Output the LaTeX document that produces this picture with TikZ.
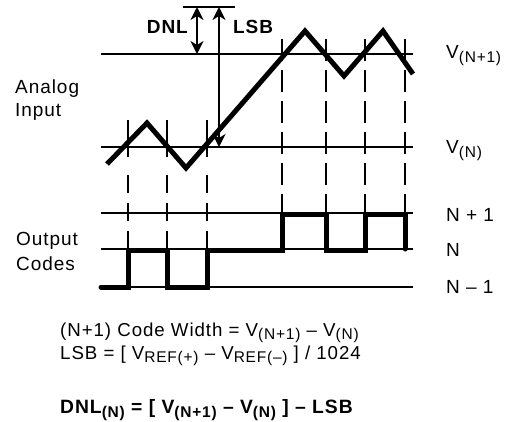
\documentclass[tikz,border=0pt]{standalone}
\usepackage{fontspec}
\setmainfont{Liberation Sans}[LetterSpace=5]
\usetikzlibrary{arrows.meta}
\newcommand\lowsub[1]{\raisebox{-4.5pt}{\fontsize{15.5}{15.5}\selectfont #1}}
\newcommand\flowsub[1]{\raisebox{-3.5pt}{\fontsize{15.5}{15.5}\selectfont #1}}
\begin{document}
\begin{tikzpicture}[x=1pt,y=-1pt,
  hline/.style={line width=1.6pt},
  wave/.style={line width=5pt, line join=miter},
  codeline/.style={line width=5pt, line cap=round, line join=miter},
  dashR/.style={line width=2pt, dash pattern=on 22pt off 9pt},
  dashL/.style={line width=2pt, dash pattern=on 37pt off 18pt on 18pt off 10pt on 18pt off 10pt on 18pt off 10pt},
  dimarrow/.style={line width=1.8pt, {Stealth[length=13pt,width=13pt,inset=4pt]}-{Stealth[length=13pt,width=13pt,inset=4pt]}},
  txt/.style={inner sep=0pt, font=\fontsize{19}{22}\selectfont},
  ftxt/.style={inner sep=0pt, font=\fontsize{18.7}{22}\selectfont}
]
\useasboundingbox (0,0) rectangle (509,421);

% horizontal reference lines
\foreach \n/\y in {vnp/54, vn/147, cnp/213, cn/249, cnm/287}{
  \coordinate (\n L) at (101,\y);
  \coordinate (\n R) at (413,\y);
  \draw[hline] (\n L) -- (\n R);
}

% vertical dashed lines
\foreach \n/\x in {a/128, b/167, c/207}{
  \coordinate (\n T) at (\x,120);
  \coordinate (\n B) at (\x,249);
  \draw[dashL] (\n T) -- (\n B);
}
\foreach \n/\x in {d/282, e/326, f/365, g/405}{
  \coordinate (\n T) at (\x,39);
  \coordinate (\n B) at (\x,249);
  \draw[dashR] (\n T) -- (\n B);
}

% analog input wave
\draw[wave] (107,164) -- (147,123) -- (186,168) -- (305,31) -- (344,76) -- (383,31) -- (413,74);

% output code path
\draw[codeline] (101,287) -- (128,287) -- (128,250) -- (167,250) -- (167,287) -- (207,287)
  -- (207,250) -- (282,250) -- (282,214) -- (326,214) -- (326,250) -- (365,250)
  -- (365,214) -- (405,214) -- (405,249);

% DNL / LSB dimension arrows
\coordinate (topL) at (183,7);
\coordinate (topR) at (235,7);
\draw[hline] (topL) -- (topR);
\coordinate (dnlT) at (197,7);
\coordinate (dnlB) at (197,54);
\draw[dimarrow] (dnlT) -- (dnlB);
\coordinate (lsbT) at (219,7);
\coordinate (lsbB) at (219,147);
\draw[dimarrow] (lsbT) -- (lsbB);

\node[txt, anchor=base east, font=\fontsize{19}{22}\selectfont\bfseries] (dnl) at (188,33) {DNL};
\node[txt, anchor=base west, font=\fontsize{19}{22}\selectfont\bfseries] (lsb) at (233,33) {LSB};

% left labels
\node[txt, anchor=base west] (analog) at (15,93) {Analog};
\node[txt, anchor=base west] (input) at (15,116) {Input};
\node[txt, anchor=base west] (output) at (16,245) {Output};
\node[txt, anchor=base west] (codes) at (16,270) {Codes};

% right labels
\node[txt, anchor=base west] (lvnp) at (446,58) {V\lowsub{(N+1)}};
\node[txt, anchor=base west] (lvn) at (446,153) {V\lowsub{(N)}};
\node[txt, anchor=base west] (lcnp) at (446,221) {N + 1};
\node[txt, anchor=base west] (lcn) at (446,256) {N};
\node[txt, anchor=base west] (lcnm) at (446,293) {N – 1};

% formulas
\node[ftxt, anchor=base west] (f1) at (60,336) {(N+1) Code Width = V\flowsub{(N+1)} – V\flowsub{(N)}};
\node[ftxt, anchor=base west] (f2) at (60,359) {LSB = [ V\flowsub{REF(+)} – V\flowsub{REF(–)} ] / 1024};
\node[ftxt, anchor=base west, font=\fontsize{19.3}{22}\selectfont\bfseries] (f3) at (60,413) {DNL\lowsub{(N)} = [ V\lowsub{(N+1)} – V\lowsub{(N)} ] – LSB};
\end{tikzpicture}
\end{document}
